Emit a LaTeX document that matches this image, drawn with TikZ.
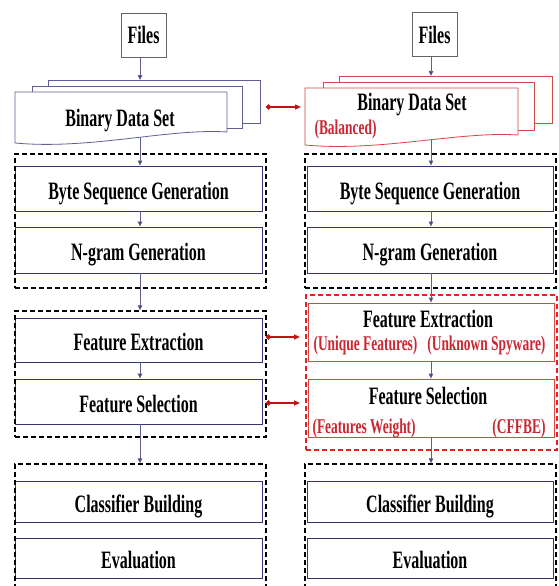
\documentclass[tikz,border=0pt]{standalone}
\usepackage{fontspec}
\setmainfont{Liberation Serif}[FakeStretch=0.64]
\usetikzlibrary{arrows.meta}

\definecolor{navy}{RGB}{52,52,110}
\definecolor{docblue}{RGB}{95,95,150}
\definecolor{linkred}{RGB}{190,20,20}
\definecolor{notered}{RGB}{200,40,50}
\definecolor{docred}{RGB}{215,70,70}
\definecolor{dashred}{RGB}{225,35,35}
\definecolor{filesgray}{RGB}{100,100,100}

\tikzset{
  mainfont/.style={font=\bfseries\fontsize{25}{28}\selectfont},
  notefont/.style={font=\bfseries\fontsize{21}{24}\selectfont, text=notered},
  stepbox/.style={draw=navy, line width=0.9pt, fill=white, inner sep=0pt,
    text height=21pt, text depth=0pt, mainfont},
  redbox/.style={draw=docred, line width=0.8pt, fill=white, inner sep=0pt},
  filebox/.style={draw=filesgray, line width=0.8pt, fill=white, inner sep=0pt,
    minimum width=45pt, minimum height=44pt, text height=18pt, text depth=0pt, mainfont},
  groupbox/.style={draw=black, line width=1.4pt, dash pattern=on 5pt off 3pt, inner sep=0pt},
  redgroup/.style={draw=dashred, line width=1.4pt, dash pattern=on 5pt off 3pt, inner sep=0pt},
  flow/.style={draw=docblue, line width=0.8pt, -{Triangle[length=5pt,width=4.5pt,fill=navy]}},
  link/.style={draw=linkred, line width=1.3pt,
    {Circle[length=5pt]}-{Triangle[length=6pt,width=5pt]}},
  docline/.style={draw=docblue, line width=0.8pt, fill=white},
  reddoc/.style={draw=docred, line width=0.8pt, fill=white}
}

\begin{document}
\begin{tikzpicture}[x=1pt, y=-1pt]
\clip (0,0) rectangle (559,586);
\fill[white] (0,0) rectangle (559,586);

% column axes for the vertical flow
\coordinate (xL) at (140,0);
\coordinate (xR) at (431,0);

% ---------- left pipeline ----------
\node[filebox] (filesL) at (143.5,35) {Files};

% stacked data-set sheets
\draw[docline] (48,80) rectangle (260,123);
\draw[docline] (32,86) rectangle (242,128);
\draw[docline] (15,92) -- (227,92) -- (227,132)
  .. controls (170,128) and (90,150) .. (15,143) -- cycle;
\node[mainfont, anchor=base] (bdsL) at (120,126) {Binary Data Set};
\coordinate (docLtop) at (140,80);
\coordinate (docLbot) at (140,137);

\node[stepbox, minimum width=247pt, minimum height=45pt] (byteL) at (138.5,188.5) {Byte Sequence Generation};
\node[stepbox, minimum width=247pt, minimum height=46pt] (ngramL) at (138.5,250) {N-gram Generation};
\node[stepbox, minimum width=247pt, minimum height=44pt] (feL) at (138.5,340) {Feature Extraction};
\node[stepbox, minimum width=247pt, minimum height=45pt] (fsL) at (138.5,401.5) {Feature Selection};
\node[stepbox, minimum width=247pt, minimum height=41pt] (cbL) at (138.5,501.5) {Classifier Building};
\node[stepbox, minimum width=247pt, minimum height=40pt] (evL) at (138.5,558) {Evaluation};

\node[groupbox, minimum width=251pt, minimum height=134pt] (grpL1) at (140.5,221) {};
\node[groupbox, minimum width=251pt, minimum height=126pt] (grpL2) at (140.5,374) {};
\node[groupbox, minimum width=251pt, minimum height=146pt] (grpL3) at (140.5,537) {};

% ---------- right pipeline ----------
\node[filebox] (filesR) at (434.5,34.5) {Files};

\draw[reddoc] (339,76) rectangle (552,123);
\draw[reddoc] (323,82) rectangle (534,130);
\draw[reddoc] (305,88) -- (518,88) -- (518,135)
  .. controls (460,131) and (380,152) .. (305,145) -- cycle;
\node[mainfont, anchor=base] (bdsR) at (412,110) {Binary Data Set};
\node[notefont, anchor=base west] (balR) at (311,134) {(Balanced)};
\coordinate (docRtop) at (431,76);
\coordinate (docRbot) at (431,139);

\node[stepbox, minimum width=246pt, minimum height=45pt] (byteR) at (430,188.5) {Byte Sequence Generation};
\node[stepbox, minimum width=246pt, minimum height=46pt] (ngramR) at (430,250) {N-gram Generation};

\node[redbox, minimum width=246pt, minimum height=58pt] (feR) at (431,332) {};
\node[mainfont, anchor=base] (feRt) at (428,327) {Feature Extraction};
\node[notefont, anchor=base west] (feRa) at (310,350) {(Unique Features)};
\node[notefont, anchor=base east] (feRb) at (549,350) {(Unknown Spyware)};

\node[redbox, minimum width=246pt, minimum height=58pt] (fsR) at (431,408) {};
\node[mainfont, anchor=base] (fsRt) at (428,404) {Feature Selection};
\node[notefont, anchor=base west] (fsRa) at (309,433) {(Features Weight)};
\node[notefont, anchor=base east] (fsRb) at (549,433) {(CFFBE)};

\node[stepbox, minimum width=246pt, minimum height=41pt] (cbR) at (430,501.5) {Classifier Building};
\node[stepbox, minimum width=246pt, minimum height=40pt] (evR) at (430,558) {Evaluation};

\node[groupbox, minimum width=251pt, minimum height=134pt] (grpR1) at (430.5,221) {};
\node[redgroup, minimum width=251pt, minimum height=155pt] (grpR2) at (431.5,372.5) {};
\node[groupbox, minimum width=251pt, minimum height=146pt] (grpR3) at (430.5,537) {};

% ---------- vertical flow ----------
\draw[flow] (filesL.south -| xL) -- (docLtop);
\draw[flow] (docLbot) -- (byteL.north -| xL);
\draw[flow] (byteL.south -| xL) -- (ngramL.north -| xL);
\draw[flow] (ngramL.south -| xL) -- (grpL2.north -| xL);
\draw[flow] (feL.south -| xL) -- (fsL.north -| xL);
\draw[flow] (fsL.south -| xL) -- (grpL3.north -| xL);

\draw[flow] (filesR.south -| xR) -- (docRtop);
\draw[flow] (docRbot) -- (byteR.north -| xR);
\draw[flow] (byteR.south -| xR) -- (ngramR.north -| xR);
\draw[flow] (ngramR.south -| xR) -- (feR.north -| xR);
\draw[flow] (feR.south -| xR) -- (fsR.north -| xR);
\draw[flow] (fsR.south -| xR) -- (grpR3.north -| xR);

% ---------- links between the two pipelines ----------
\coordinate (lkAs) at (266,107);
\coordinate (lkAe) at (301,107);
\coordinate (lkBs) at (266,337);
\coordinate (lkBe) at (300,337);
\coordinate (lkCs) at (266,403);
\coordinate (lkCe) at (300,403);
\draw[link] (lkAs) -- (lkAe);
\draw[link] (lkBs) -- (lkBe);
\draw[link] (lkCs) -- (lkCe);
\end{tikzpicture}
\end{document}
